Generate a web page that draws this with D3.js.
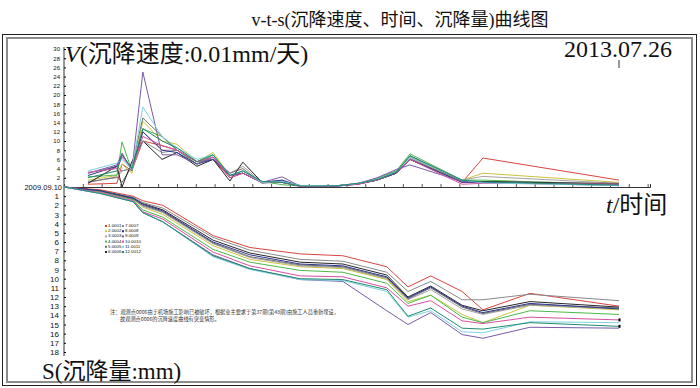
<!DOCTYPE html>
<html>
<head>
<meta charset="utf-8">
<script src="https://cdn.jsdelivr.net/npm/d3@7"></script>
<style>
    body { margin: 0; background: #fff; }
    svg text { font-family: "Liberation Serif", "Noto Sans CJK SC", serif; fill: #111; }
    .axis text { font-family: "Liberation Sans", "DejaVu Sans", sans-serif; }
    .note text { font-family: "Noto Sans CJK SC", sans-serif; fill: #333; }
</style>
</head>
<body>
<div id="chart"></div>
<script>

// observation points (days after 2009.09.10)
const startLabel = '2009.09.10';
const endLabel = '2013.07.26';
const endDay = 1415;
const vDays = [61, 135, 148, 173, 201, 250, 288, 339, 380, 423, 456, 505, 556, 604, 653, 699, 750, 798, 847, 882, 1015, 1068, 1415];
const sDays = [0, 92, 176, 201, 252, 380, 474, 602, 711, 823, 877, 935, 1015, 1068, 1188, 1415];

const pointNames = ['1.0001', '2.0002', '3.0003', '4.0004', '5.0005', '6.0006',
                    '7.0007', '8.0008', '9.0009', '10.0010', '11.0011', '12.0012'];
const pointColors = ['#d9453f', '#c9c43c', '#a3a3a3', '#4cb84a', '#6e6e6e', '#262626',
                     '#8a8a8a', '#2f3590', '#7a5aa8', '#d64fa0', '#7fd2e2', '#1f8a70'];

// settlement rate, 0.01mm/day
const v1  = [0.6, 0.8, 5, 3.5, 10, 9, 8, 5.5, 6, 2, 3, 1, 1, 0.3, 0.2, 0.3, 0.8, 1.8, 3.5, 6.5, 1, 6.3, 1.5];
const v2  = [1.5, 2.5, 5, 3, 14.3, 10, 9.3, 5.5, 7.5, 2.5, 3, 1, 1.2, 0.3, 0.2, 0.3, 0.7, 1.5, 3, 6, 1.5, 3, 1];
const v3  = [1.2, 2, 3.5, 4, 12, 8, 8, 5, 6.5, 3, 4.5, 1, 1.5, 0.3, 0.2, 0.3, 0.7, 1.5, 3.5, 6.5, 1.5, 2.3, 0.8];
const v4  = [2.2, 2.6, 9.8, 3.5, 12.6, 11, 8, 5, 7, 2.5, 3.5, 1.2, 0.5, 0.2, 0.2, 0.3, 0.7, 1.8, 3.5, 7.2, 1.5, 1.5, 0.5];
const v5  = [1, 2.2, 1, 4.5, 15, 11, 8, 5.5, 6, 3, 4, 0.8, 1.2, 0.2, 0.3, 0.3, 0.7, 1.6, 3.2, 6.8, 1.2, 1.2, 0.8];
const v6  = [0.8, 4.5, 0, 5.5, 10, 6, 7.5, 4.5, 6, 1.3, 5.4, 1, 1, 0.2, 0.2, 0.3, 0.7, 1.5, 3, 6, 1.2, 1.2, 0.6];
const v7  = [3, 4.5, 3.5, 4, 10, 7.5, 8, 5.5, 6, 2.5, 3, 1, 1.3, 0.2, 0.2, 0.3, 0.7, 1.5, 3, 6.2, 1.2, 1, 0.5];
const v8  = [2.5, 4.5, 7, 4, 12, 8, 7.5, 5, 6, 2.5, 3, 1, 1.5, 0.1, 0.1, 0.2, 0.6, 1.5, 3, 6, 1, 1, 0.4];
const v9  = [3, 4.8, 7.4, 3.5, 25, 7, 7, 5, 6.5, 2.5, 3, 1, 2.2, 0.1, 0.1, 0.2, 0.8, 2, 3.8, 4.8, 1.2, 1, 0.3];
const v10 = [3.2, 4, 6.5, 4, 11, 9, 8, 5.5, 6.5, 2, 3, 1, 1, 0.1, 0.1, 0.3, 0.6, 1.5, 3.2, 6, 0.6, 0.8, 0.6];
const v11 = [3.5, 5.2, 6, 3.8, 17.4, 11, 8.5, 6, 7, 2.5, 3.5, 1, 1.2, 0.3, 0.3, 0.3, 0.8, 1.7, 3.3, 6.5, 1.5, 0.9, 0.3];
const v12 = [2, 3.5, 7, 4, 12.7, 10, 8.5, 5.5, 7, 2.5, 3.5, 1.2, 1, 0.2, 0.2, 0.3, 0.8, 1.6, 3.2, 6.8, 1.5, 1.1, 0.4];

// accumulated settlement, mm
const s1  = [0, 0.3, 1.0, 1.5, 2.0, 5.3, 6.6, 7.3, 7.5, 8.7, 10.9, 9.7, 11.4, 13.4, 11.6, 13.0];
const s2  = [0, 0.5, 1.3, 2.2, 3.0, 6.4, 7.9, 8.7, 8.9, 10.1, 12.5, 11.8, 13.9, 14.8, 12.9, 13.4];
const s3  = [0, 0.5, 1.3, 2.1, 2.8, 6.2, 7.7, 8.6, 8.8, 10.0, 12.3, 11.2, 13.3, 13.9, 12.9, 13.3];
const s4  = [0, 0.5, 1.4, 2.5, 3.3, 6.8, 8.2, 9.1, 9.3, 10.5, 12.7, 11.8, 14.2, 14.8, 13.5, 13.9];
const s5  = [0, 0.4, 1.3, 2.0, 2.7, 6.1, 7.6, 8.5, 8.7, 9.9, 12.2, 11.0, 13.1, 13.8, 12.8, 13.2];
const s6  = [0, 0.4, 1.2, 1.8, 2.5, 5.8, 7.2, 8.2, 8.4, 9.6, 12.0, 10.8, 12.9, 13.5, 12.5, 13.1];
const s7  = [0, 0.4, 1.1, 1.7, 2.3, 5.5, 6.9, 7.9, 8.1, 9.3, 11.4, 10.3, 12.3, 12.3, 11.7, 12.4];
const s8  = [0, 0.4, 1.2, 1.9, 2.6, 6.0, 7.4, 8.4, 8.6, 9.8, 12.1, 10.9, 13.0, 13.7, 12.7, 13.3];
const s9  = [0, 0.7, 1.6, 2.8, 3.8, 7.4, 8.9, 10.1, 10.3, 13.5, 15.0, 13.7, 16.1, 16.5, 15.3, 15.4];
const s10 = [0, 0.6, 1.5, 2.7, 3.5, 7.1, 8.6, 9.7, 9.8, 11.0, 13.0, 12.4, 14.6, 14.9, 14.2, 14.5];
const s11 = [0, 0.7, 1.6, 2.8, 3.8, 7.6, 9.0, 10.1, 10.2, 11.4, 14.2, 13.5, 15.8, 15.9, 14.7, 14.8];
const s12 = [0, 0.7, 1.6, 2.8, 3.8, 7.5, 8.9, 10.0, 10.1, 11.2, 14.1, 13.2, 15.4, 15.5, 14.8, 15.2];

const vSeries = [v1, v2, v3, v4, v5, v6, v7, v8, v9, v10, v11, v12];
const sSeries = [s1, s2, s3, s4, s5, s6, s7, s8, s9, s10, s11, s12];

const vTicks = d3.range(2, 31, 2);
const sTicks = d3.range(1, 19, 1);
const timeTicks = d3.range(0, 1495, 48);

const noteLines = [
    '注：观测点0006由于机场施工影响已被破坏，根据业主要求于第37期(第48期)由施工人员重新埋设，',
    '故观测点0006的沉降速度曲线有突变情形。'
];

const chart = (function () {

    let svg = null,
        xScale = null,
        vScale = null,
        sScale = null;

    return { init };

    function init() {
        const width = 700, height = 388;

        svg = d3.select('#chart').append('svg')
            .attr('width', width)
            .attr('height', height);

        svg.append('rect')
            .attr('width', width).attr('height', height)
            .attr('fill', '#fff');

        xScale = d3.scaleLinear().domain([0, 1494]).range([64, 650]);
        vScale = d3.scaleLinear().domain([0, 30]).range([187, 49]);
        sScale = d3.scaleLinear().domain([0, 18]).range([187, 352]);

        drawFrame(width, height);
        drawAxes();
        drawLines();
        drawLegend();
        drawNote();
    }

    function drawFrame(width, height) {
        svg.append('text')
            .attr('x', 400)
            .attr('y', 26)
            .attr('text-anchor', 'middle')
            .style('font-size', '18px')
            .text('v-t-s(沉降速度、时间、沉降量)曲线图');

        svg.append('rect')
            .attr('x', 2.5).attr('y', 34.5)
            .attr('width', 694).attr('height', 351)
            .attr('fill', 'none')
            .attr('stroke', '#222')
            .attr('stroke-width', 1);

        svg.append('rect')
            .attr('x', 7).attr('y', 38)
            .attr('width', 685).attr('height', 344)
            .attr('fill', 'none')
            .attr('stroke', '#8c8c8c')
            .attr('stroke-width', 2);
    }

    function drawAxes() {
        // time axis
        svg.append('g')
            .attr('class', 'axis')
            .attr('transform', 'translate(0,187)')
            .call(d3.axisTop(xScale).tickValues(timeTicks).tickSize(3).tickFormat(''))
            .call(g => g.select('.domain').attr('stroke', '#333'))
            .call(g => g.selectAll('.tick line').attr('stroke', '#555'));

        svg.append('text')
            .attr('x', 62).attr('y', 190)
            .attr('text-anchor', 'end')
            .style('font-family', '"Liberation Sans", sans-serif')
            .style('font-size', '7.5px')
            .text(startLabel);

        // rate axis (upwards)
        svg.append('g')
            .attr('class', 'axis')
            .attr('transform', 'translate(64,0)')
            .call(d3.axisLeft(vScale).tickValues(vTicks).tickSize(-2).tickPadding(4).tickSizeOuter(0))
            .call(g => g.select('.domain').attr('d', 'M0,187V47').attr('stroke', '#333'))
            .call(g => g.selectAll('.tick text').style('font-size', '6px'));

        // settlement axis (downwards)
        svg.append('g')
            .attr('class', 'axis')
            .attr('transform', 'translate(64,0)')
            .call(d3.axisLeft(sScale).tickValues(sTicks).tickSize(-2).tickPadding(5).tickSizeOuter(0))
            .call(g => g.select('.domain').attr('d', 'M0,187V356').attr('stroke', '#333'))
            .call(g => g.selectAll('.tick text').style('font-size', '8px'));

        svg.append('text')
            .attr('x', 65).attr('y', 62)
            .style('font-size', '24px')
            .html('<tspan font-style="italic">V</tspan>(沉降速度:0.01mm/天)');

        svg.append('text')
            .attr('x', 672).attr('y', 57)
            .attr('text-anchor', 'end')
            .style('font-size', '24px')
            .text(endLabel);

        svg.append('line')
            .attr('x1', xScale(endDay)).attr('x2', xScale(endDay))
            .attr('y1', 60).attr('y2', 68)
            .attr('stroke', '#333');

        svg.append('text')
            .attr('x', 606).attr('y', 213)
            .style('font-size', '24px')
            .html('<tspan font-style="italic">t</tspan>/时间');

        svg.append('text')
            .attr('x', 42).attr('y', 379)
            .style('font-size', '23px')
            .text('S(沉降量:mm)');
    }

    function drawLines() {
        const vLine = d3.line()
            .x((d, i) => xScale(vDays[i]))
            .y(d => vScale(d));

        const sLine = d3.line()
            .x((d, i) => xScale(sDays[i]))
            .y(d => sScale(d));

        svg.append('g').selectAll('path')
            .data(vSeries)
            .enter().append('path')
            .attr('d', vLine)
            .attr('fill', 'none')
            .attr('stroke', (d, i) => pointColors[i])
            .attr('stroke-width', 1);

        svg.append('g').selectAll('path')
            .data(sSeries)
            .enter().append('path')
            .attr('d', sLine)
            .attr('fill', 'none')
            .attr('stroke', (d, i) => pointColors[i])
            .attr('stroke-width', 1);

        // small end marks on two of the settlement curves
        svg.append('g').selectAll('rect')
            .data([s10, s12])
            .enter().append('rect')
            .attr('x', xScale(endDay) - 0.5)
            .attr('y', d => sScale(d[d.length - 1]) - 1.5)
            .attr('width', 2).attr('height', 3)
            .attr('fill', '#000');
    }

    function drawLegend() {
        const legend = svg.append('g')
            .attr('transform', 'translate(105,227)');

        const item = legend.selectAll('g')
            .data(pointNames)
            .enter().append('g')
            .attr('transform', (d, i) =>
                'translate(' + (i < 6 ? 0 : 17) + ',' + ((i % 6) * 5.2) + ')');

        item.append('rect')
            .attr('x', 0).attr('y', -2)
            .attr('width', 2).attr('height', 2)
            .attr('fill', (d, i) => pointColors[i]);

        item.append('text')
            .attr('x', 3).attr('y', 0)
            .style('font-family', '"Liberation Sans", sans-serif')
            .style('font-size', '4.4px')
            .text(d => d);
    }

    function drawNote() {
        svg.append('g')
            .attr('class', 'note')
            .selectAll('text')
            .data(noteLines)
            .enter().append('text')
            .attr('x', (d, i) => i === 0 ? 110 : 120)
            .attr('y', (d, i) => 314 + i * 7)
            .style('font-size', '5.2px')
            .text(d => d);
    }

}());

chart.init();
</script>
</body>
</html>
